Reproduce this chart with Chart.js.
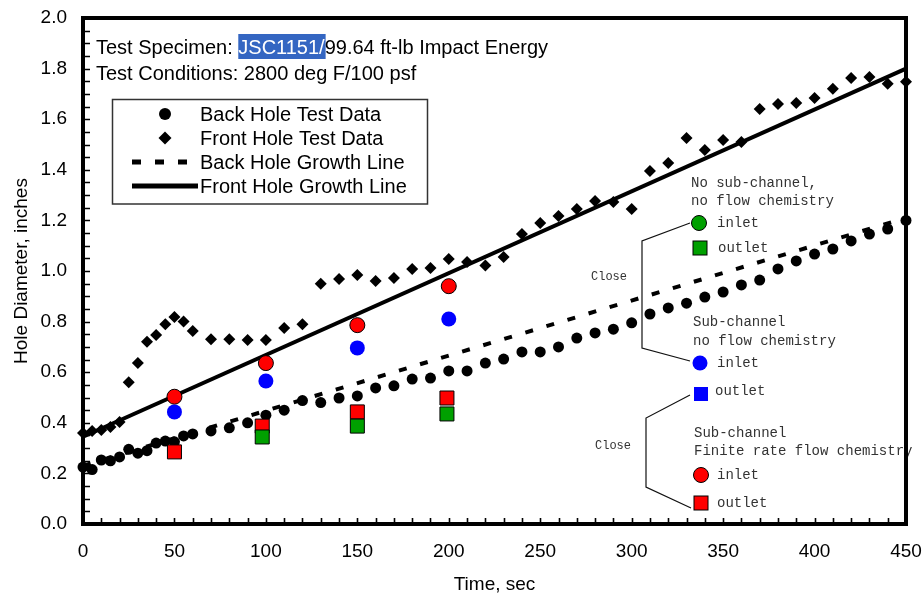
<!DOCTYPE html>
<html><head><meta charset="utf-8">
<script src="https://cdn.jsdelivr.net/npm/chart.js@4/dist/chart.umd.min.js"></script>
<style>html,body{margin:0;padding:0;background:#fff;overflow:hidden}</style>
</head><body>
<canvas id="c" width="923" height="599"></canvas>
<script>
// ---- data ----
const backTimes = [0,5,10,15,20,25,30,35,40,45,50,55,60,70,80,90,100,110,120,130,140,150,160,170,180,190,200,210,220,230,240,250,260,270,280,290,300,310,320,330,340,350,360,370,380,390,400,410,420,430,440,450];
const backDiameters = [0.225,0.215,0.253,0.25,0.265,0.295,0.28,0.29,0.32,0.328,0.325,0.348,0.356,0.368,0.38,0.40,0.43,0.45,0.488,0.48,0.498,0.506,0.538,0.546,0.573,0.577,0.605,0.605,0.636,0.652,0.68,0.68,0.70,0.735,0.755,0.77,0.795,0.83,0.854,0.873,0.897,0.917,0.945,0.964,1.008,1.04,1.067,1.087,1.119,1.146,1.166,1.20];
const frontTimes = [0,5,10,15,20,25,30,35,40,45,50,55,60,70,80,90,100,110,120,130,140,150,160,170,180,190,200,210,220,230,240,250,260,270,280,290,300,310,320,330,340,350,360,370,380,390,400,410,420,430,440,450];
const frontDiameters = [0.36,0.368,0.372,0.383,0.403,0.56,0.636,0.72,0.747,0.79,0.818,0.80,0.763,0.73,0.73,0.727,0.727,0.775,0.79,0.95,0.968,0.984,0.96,0.972,1.008,1.012,1.047,1.036,1.022,1.055,1.146,1.19,1.217,1.245,1.277,1.273,1.245,1.395,1.427,1.526,1.478,1.518,1.51,1.64,1.66,1.664,1.684,1.72,1.763,1.767,1.74,1.748];
const growthTimes = [0,450];
const backGrowth = [0.23,1.21];
const frontGrowth = [0.345,1.80];
const inletTimes = [50,100,150,200];
const finiteRateInlet = [0.503,0.636,0.786,0.94];
const subChannelInlet = [0.443,0.565,0.696,0.81];
const outletTimes = [50,98,150,199];
const finiteRateOutlet = [0.285,0.387,0.443,0.498];
const noSubOutletTimes = [98,150,199];
const noSubChannelOutlet = [0.344,0.387,0.435];
const xTickValues = [0,50,100,150,200,250,300,350,400,450];
const yTickLabels = ['0.0','0.2','0.4','0.6','0.8','1.0','1.2','1.4','1.6','1.8','2.0'];
const titleLine1 = ['Test Specimen: ','JSC1151/','99.64 ft-lb Impact Energy'];
const titleLine2 = 'Test Conditions: 2800 deg F/100 psf';
const legendLabels = ['Back Hole Test Data','Front Hole Test Data','Back Hole Growth Line','Front Hole Growth Line'];

const pts = (xs, ys) => xs.map((x,i)=>({x, y: ys[i]}));
const SANS = '"Liberation Sans", Arial, sans-serif';
const MONO = '"Liberation Mono", "Courier New", monospace';

const extras = {
  id: 'extras',
  afterDatasetsDraw(chart) {
    const ctx = chart.ctx;
    const a = chart.chartArea;
    ctx.save();
    // title lines
    ctx.font = '20px ' + SANS;
    ctx.textBaseline = 'alphabetic';
    ctx.textAlign = 'left';
    let x = 96;
    ctx.fillStyle = '#000';
    ctx.fillText(titleLine1[0], x, 54);
    x += ctx.measureText(titleLine1[0]).width;
    const w = ctx.measureText(titleLine1[1]).width;
    ctx.fillStyle = '#3466c2';
    ctx.fillRect(x, 34, w + 1, 25);
    ctx.fillStyle = '#fff';
    ctx.fillText(titleLine1[1], x, 54);
    x += w;
    ctx.fillStyle = '#000';
    ctx.fillText(titleLine1[2], x, 54);
    ctx.fillText(titleLine2, 96, 80);

    // legend box
    ctx.strokeStyle = '#333';
    ctx.lineWidth = 1.5;
    ctx.strokeRect(112.5, 99.5, 315, 104.5);
    const rows = [114, 138, 162, 186];
    ctx.fillStyle = '#000';
    ctx.font = '20px ' + SANS;
    ctx.textBaseline = 'middle';
    legendLabels.forEach((t,i)=>ctx.fillText(t, 200, rows[i]+1));
    ctx.beginPath(); ctx.arc(165, rows[0], 6, 0, Math.PI*2); ctx.fill();
    ctx.beginPath(); ctx.moveTo(165, rows[1]-6.5); ctx.lineTo(171.5, rows[1]); ctx.lineTo(165, rows[1]+6.5); ctx.lineTo(158.5, rows[1]); ctx.closePath(); ctx.fill();
    ctx.strokeStyle = '#000';
    ctx.lineWidth = 5;
    ctx.setLineDash([9,14]);
    ctx.beginPath(); ctx.moveTo(132, rows[2]); ctx.lineTo(188, rows[2]); ctx.stroke();
    ctx.setLineDash([]);
    ctx.beginPath(); ctx.moveTo(132, rows[3]); ctx.lineTo(198, rows[3]); ctx.stroke();

    // right-hand annotations
    ctx.fillStyle = '#333';
    ctx.font = '14px ' + MONO;
    ctx.textBaseline = 'middle';
    [['No sub-channel,',691,183],['no flow chemistry',691,201],['inlet',717,223],['outlet',718,248],
     ['Sub-channel',693,322],['no flow chemistry',693,341],['inlet',717,363],['outlet',715,391],
     ['Sub-channel',694,433],['Finite rate flow chemistry',694,451],['inlet',717,475],['outlet',717,503]]
      .forEach(([t,tx,ty])=>ctx.fillText(t,tx,ty));
    ctx.font = '12px ' + MONO;
    ctx.fillText('Close', 591, 277);
    ctx.fillText('Close', 595, 446);
    // brackets
    ctx.strokeStyle = '#111';
    ctx.lineWidth = 1.2;
    [[[690,223],[642,241],[642,348],[690,361]],[[690,395],[646,418],[646,487],[691,508]]].forEach(p=>{
      ctx.beginPath(); ctx.moveTo(p[0][0],p[0][1]); for(let i=1;i<p.length;i++) ctx.lineTo(p[i][0],p[i][1]); ctx.stroke();
    });
    const circ = (cx,cy,fill,border)=>{ctx.beginPath();ctx.arc(cx,cy,7.5,0,Math.PI*2);ctx.fillStyle=fill;ctx.fill();if(border){ctx.lineWidth=1;ctx.strokeStyle='#000';ctx.stroke();}};
    const sq = (cx,cy,fill,border)=>{ctx.fillStyle=fill;ctx.fillRect(cx-7,cy-7,14,14);if(border){ctx.lineWidth=1;ctx.strokeStyle='#000';ctx.strokeRect(cx-7,cy-7,14,14);}};
    circ(699,223,'#00a000',true);
    sq(700,248,'#00a000',true);
    circ(700,363,'#0000ff',false);
    sq(701,394,'#0000ff',false);
    circ(701,475,'#ff0000',true);
    sq(701,503,'#ff0000',true);

    // minor ticks
    const xs = chart.scales.x, ys = chart.scales.y;
    ctx.strokeStyle = '#000';
    ctx.lineWidth = 1.6;
    ctx.beginPath();
    for (let i = 0; i <= 40; i++) { const py = Math.round(ys.getPixelForValue(i*0.05))+0.5; ctx.moveTo(a.left, py); ctx.lineTo(a.left+7, py); }
    for (let i = 0; i <= 45; i++) { const px = Math.round(xs.getPixelForValue(i*10))+0.5; ctx.moveTo(px, a.bottom); ctx.lineTo(px, a.bottom-6); }
    ctx.stroke();
    // frame
    ctx.lineWidth = 4;
    ctx.strokeRect(a.left, a.top, a.right-a.left, a.bottom-a.top);
    ctx.restore();
  }
};

new Chart(document.getElementById('c'), {
  type: 'scatter',
  data: {
    datasets: [
      { label: 'Back Hole Growth Line', data: pts(growthTimes, backGrowth), showLine: true, borderColor: '#000', borderWidth: 4, borderDash: [8,14], pointRadius: 0, order: 10, clip: false },
      { label: 'Front Hole Growth Line', data: pts(growthTimes, frontGrowth), showLine: true, borderColor: '#000', borderWidth: 4, pointRadius: 0, order: 10, clip: false },
      { label: 'Back Hole Test Data', data: pts(backTimes, backDiameters), pointStyle: 'circle', pointRadius: 5.5, backgroundColor: '#000', borderWidth: 0, order: 5, clip: false },
      { label: 'Front Hole Test Data', data: pts(frontTimes, frontDiameters), pointStyle: 'rectRot', pointRadius: 6, backgroundColor: '#000', borderWidth: 0, order: 5, clip: false },
      { label: 'Sub-channel no flow chemistry inlet', data: pts(inletTimes, subChannelInlet), pointStyle: 'circle', pointRadius: 7.5, backgroundColor: '#0000ff', borderWidth: 0, order: 1 },
      { label: 'Finite rate inlet', data: pts(inletTimes, finiteRateInlet), pointStyle: 'circle', pointRadius: 7.5, backgroundColor: '#ff0000', borderColor: '#000', borderWidth: 1, order: 1 },
      { label: 'No sub-channel outlet', data: pts(noSubOutletTimes, noSubChannelOutlet), pointStyle: 'rect', pointRadius: 9.9, backgroundColor: '#00a000', borderColor: '#000', borderWidth: 1, order: 1 },
      { label: 'Finite rate outlet', data: pts(outletTimes, finiteRateOutlet), pointStyle: 'rect', pointRadius: 9.9, backgroundColor: '#ff0000', borderColor: '#000', borderWidth: 1, order: 1 }
    ]
  },
  options: {
    responsive: false, animation: false, devicePixelRatio: 1,
    layout: { padding: { top: 18, right: 17, bottom: 0, left: 0 } },
    plugins: { legend: { display: false }, tooltip: { enabled: false } },
    elements: { point: { hoverRadius: 0 } },
    scales: {
      x: {
        type: 'linear', min: 0, max: 450,
        afterBuildTicks: s => { s.ticks = xTickValues.map(v=>({value:v})); },
        afterFit: s => { s.height = 75; s.paddingLeft = 0; s.paddingRight = 0; },
        grid: { display: false, drawTicks: false },
        border: { display: false },
        ticks: { padding: 16, color: '#000', font: { family: SANS, size: 19 }, maxRotation: 0, autoSkip: false },
        title: { display: true, text: 'Time, sec', color: '#000', font: { family: SANS, size: 19 }, padding: { top: 0, bottom: 3 } }
      },
      y: {
        type: 'linear', min: 0, max: 2,
        afterBuildTicks: s => { s.ticks = yTickLabels.map(t=>({value: parseFloat(t)})); },
        afterFit: s => { s.width = 83; s.paddingTop = 0; s.paddingBottom = 0; },
        grid: { display: false, drawTicks: false },
        border: { display: false },
        ticks: { padding: 16, color: '#000', font: { family: SANS, size: 19 }, autoSkip: false,
                 callback: (v) => yTickLabels.find(t=>Math.abs(parseFloat(t)-v)<1e-9) },
        title: { display: true, text: 'Hole Diameter, inches', color: '#000', font: { family: SANS, size: 19 }, padding: { top: 10, bottom: 0 } }
      }
    }
  },
  plugins: [extras]
});
</script>
</body></html>
